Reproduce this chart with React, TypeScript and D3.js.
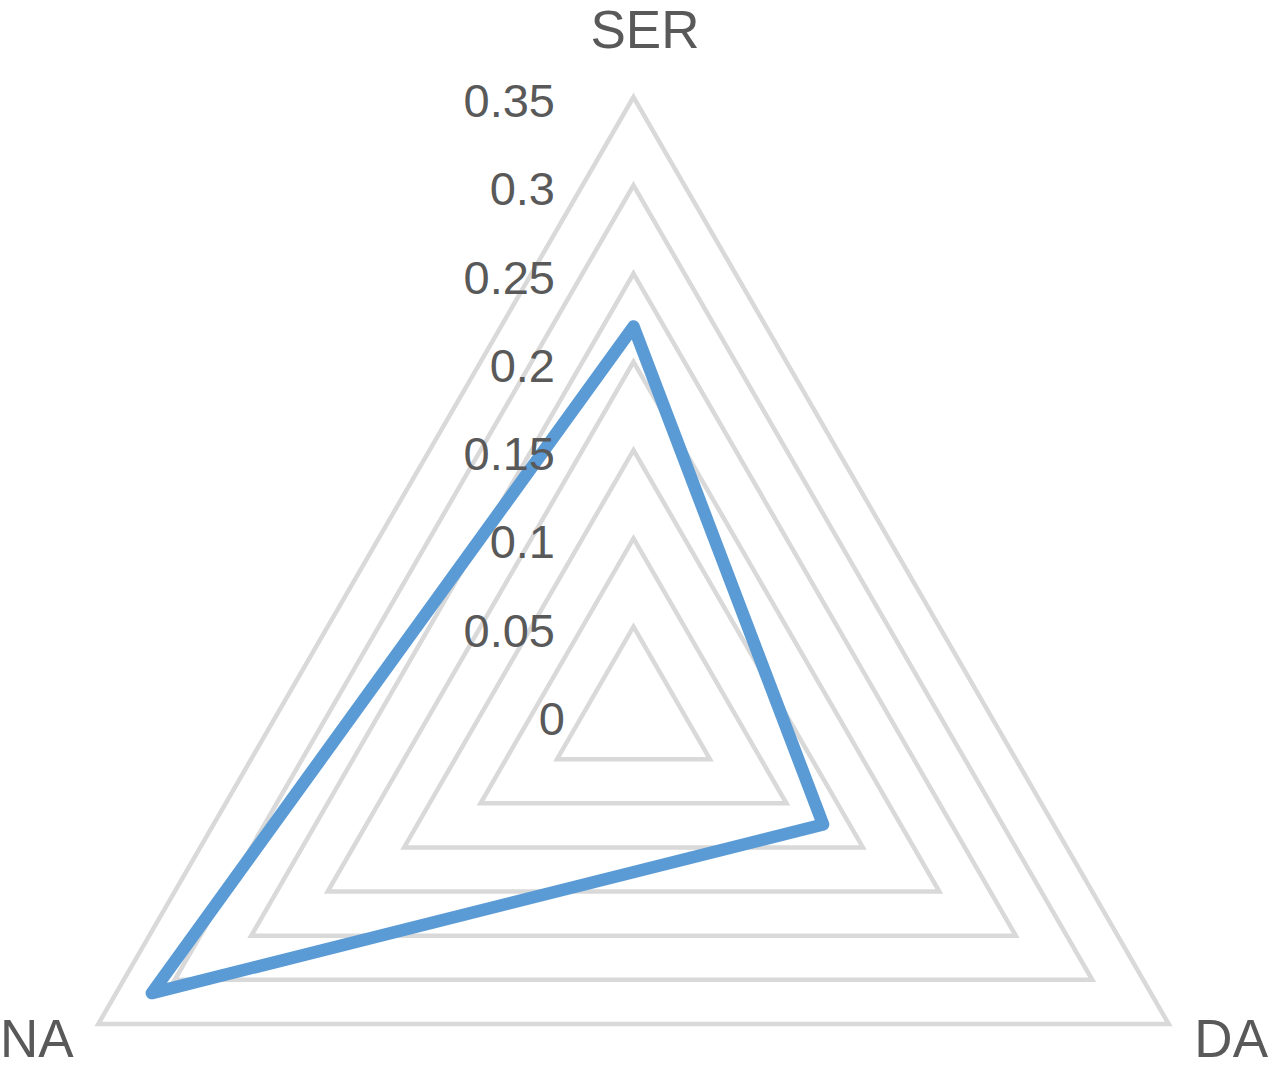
import React from "react";
import * as d3 from "d3";

// Radar chart: three axes, one series
const axes = ["SER", "DA", "NA"];
const seriesValues = [0.22, 0.124, 0.315];
const tickValues = [0, 0.05, 0.1, 0.15, 0.2, 0.25, 0.3, 0.35];
const tickLabels = ["0", "0.05", "0.1", "0.15", "0.2", "0.25", "0.3", "0.35"];

const WIDTH = 1270;
const HEIGHT = 1069;
const CX = 633.5;
const CY = 715;
const R = 618;
const FONT = "'Liberation Sans', Arial, Helvetica, sans-serif";
const TEXT = "#595959";

export default function App() {
  const r = d3.scaleLinear().domain([0, 0.35]).range([0, R]);
  const angle = (i: number) => (i * 2 * Math.PI) / axes.length; // 0 = up, clockwise
  const pt = (i: number, v: number): [number, number] => [
    CX + r(v) * Math.sin(angle(i)),
    CY - r(v) * Math.cos(angle(i)),
  ];
  const closed = d3.line().curve(d3.curveLinearClosed);

  const gridLevels = tickValues.filter((v) => v > 0);
  const seriesPath = closed(seriesValues.map((v, i) => pt(i, v))) || "";

  return (
    <svg
      width={WIDTH}
      height={HEIGHT}
      style={{ position: "absolute", left: 0, top: 0, background: "#fff" }}
    >
      {gridLevels.map((v) => (
        <path
          key={v}
          d={closed(axes.map((_, i) => pt(i, v))) || ""}
          fill="none"
          stroke="#D9D9D9"
          strokeWidth={4.5}
        />
      ))}
      <path
        d={seriesPath}
        fill="none"
        stroke="#5B9BD5"
        strokeWidth={12.5}
        strokeLinejoin="round"
      />
      {tickValues.map((v, k) => (
        <text
          key={v}
          x={v === 0 ? 565 : 555}
          y={CY - r(v) + 20}
          textAnchor="end"
          fontFamily={FONT}
          fontSize={47}
          fill={TEXT}
        >
          {tickLabels[k]}
        </text>
      ))}
      <text x={645} y={48} textAnchor="middle" fontFamily={FONT} fontSize={53} fill={TEXT}>
        {axes[0]}
      </text>
      <text x={1268} y={1057} textAnchor="end" fontFamily={FONT} fontSize={53} fill={TEXT}>
        {axes[1]}
      </text>
      <text x={0} y={1057} textAnchor="start" fontFamily={FONT} fontSize={53} fill={TEXT}>
        {axes[2]}
      </text>
    </svg>
  );
}
